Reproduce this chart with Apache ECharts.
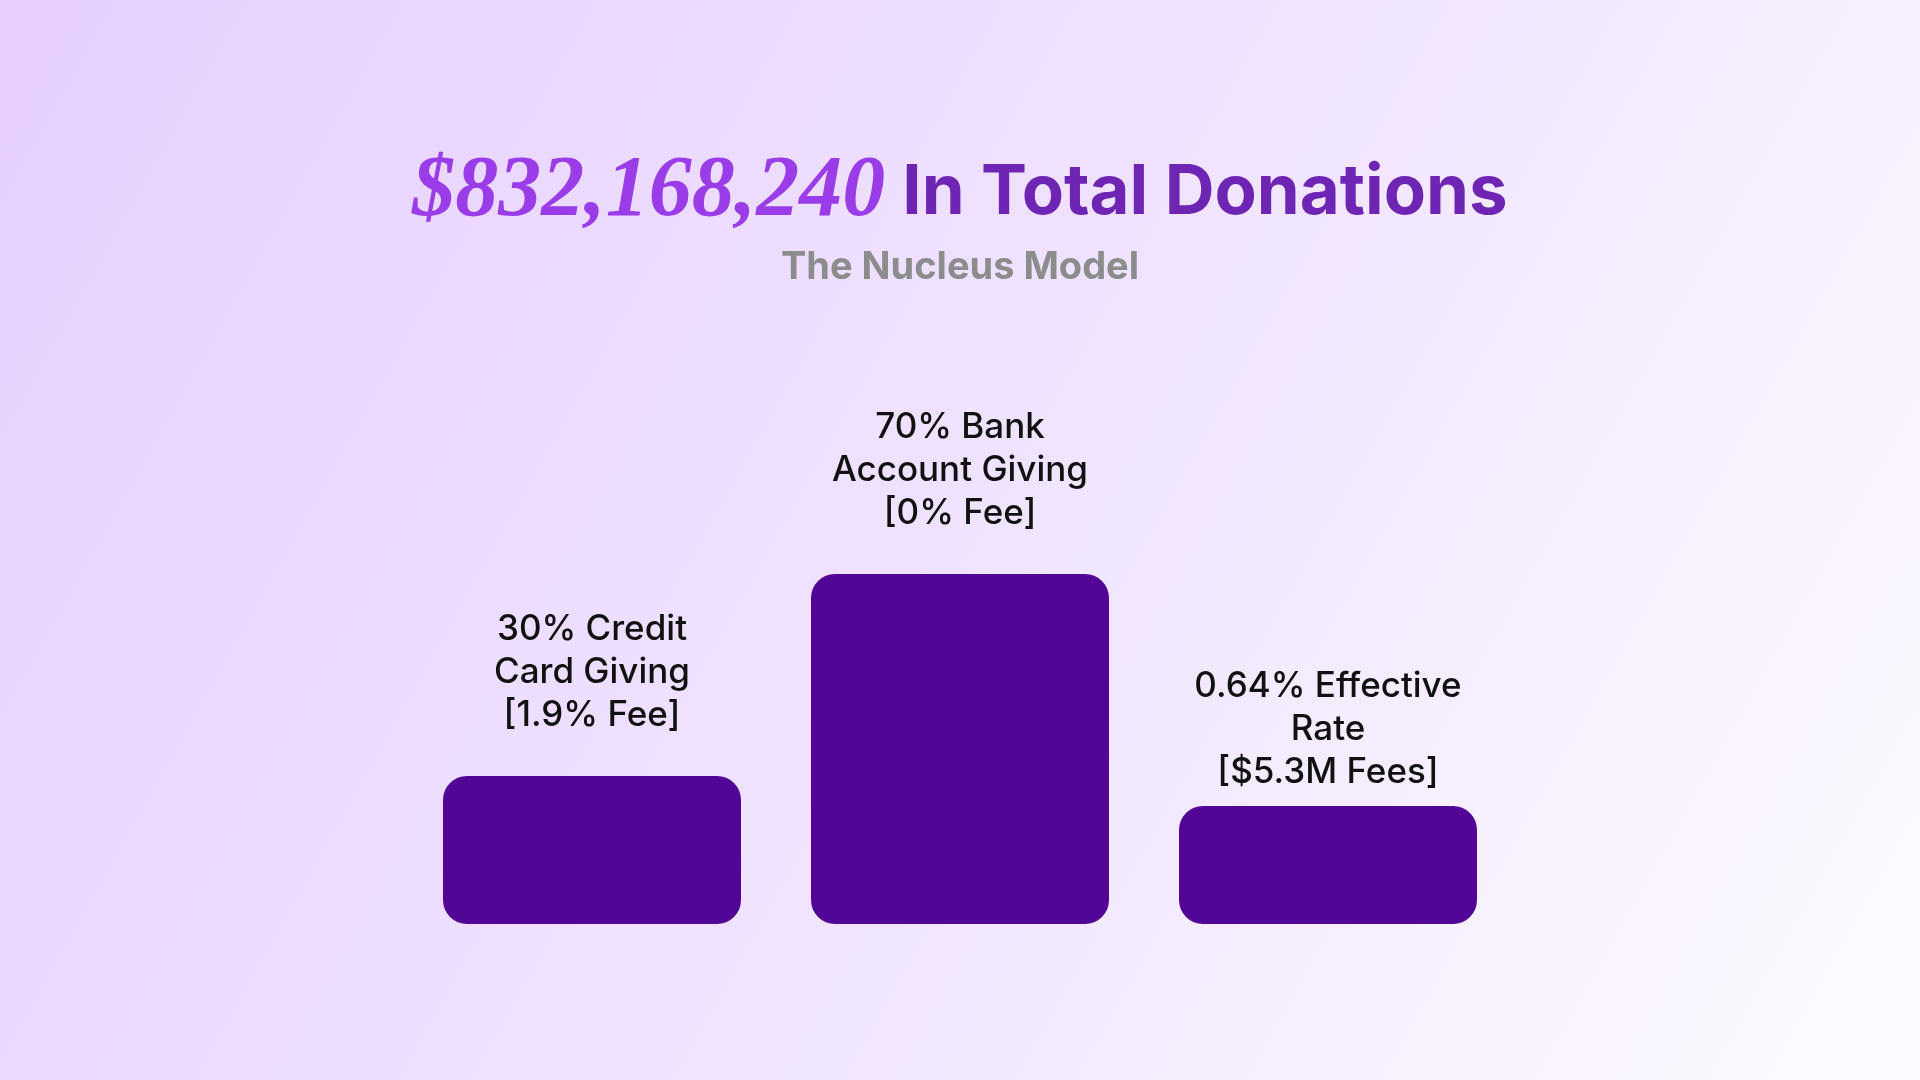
<!DOCTYPE html>
<html>
<head>
<meta charset="utf-8">
<script src="https://cdn.jsdelivr.net/npm/echarts@6/dist/echarts.min.js"></script>
<style>
html,body{margin:0;padding:0;width:1920px;height:1080px;overflow:hidden;}
#chart{width:1920px;height:1080px;}
</style>
</head>
<body>
<div id="chart"></div>
<script>
const titleAmount = '$832,168,240';
const titleRest = 'In Total Donations';
const subtitle = 'The Nucleus Model';
const categories = ['Credit Card', 'Bank Account', 'Effective Rate'];
const values = [29.6, 70, 23.6];
const barLabels = [
  '30% Credit\nCard Giving\n[1.9% Fee]',
  '70% Bank\nAccount Giving\n[0% Fee]',
  '0.64% Effective\nRate\n[$5.3M Fees]'
];
const labelDistances = [39, 39, 12];

const chart = echarts.init(document.getElementById('chart'));
chart.setOption({
  backgroundColor: new echarts.graphic.LinearGradient(0, 0, 1, 1, [
    {offset: 0, color: '#e6cfff'},
    {offset: 0.5, color: '#f0e3ff'},
    {offset: 1, color: '#fdfbff'}
  ]),
  title: [{
    left: 'center',
    top: 140,
    text: '{a|' + titleAmount + '}{b|' + titleRest + '}',
    textStyle: {
      rich: {
        a: {fontFamily: 'Liberation Serif', fontStyle: 'italic', fontWeight: 'bold', fontSize: 86, color: '#9a3ce8', lineHeight: 96, padding: [0, 17, 0, 0]},
        b: {fontFamily: 'Inter', fontWeight: 'bold', fontSize: 69, color: '#6f25b4', lineHeight: 96}
      }
    }
  }, {
    left: 'center',
    top: 244,
    text: subtitle,
    textStyle: {fontFamily: 'Inter', fontWeight: 'bold', fontSize: 38, color: '#8c8c8c'}
  }],
  grid: {left: 408, right: 408, top: 574, height: 350},
  xAxis: {
    type: 'category',
    data: categories,
    show: false
  },
  yAxis: {type: 'value', min: 0, max: 70, show: false},
  series: [{
    type: 'bar',
    barWidth: 298,
    data: values.map((v, i) => ({
      value: v,
      label: {formatter: barLabels[i], distance: labelDistances[i]}
    })),
    itemStyle: {color: '#520696', borderRadius: 24},
    label: {
      show: true,
      position: 'top',
      fontFamily: 'Inter',
      fontWeight: 500,
      fontSize: 35,
      lineHeight: 43,
      color: '#111111',
      align: 'center'
    },
    silent: true,
    animation: false
  }]
});
</script>
</body>
</html>
